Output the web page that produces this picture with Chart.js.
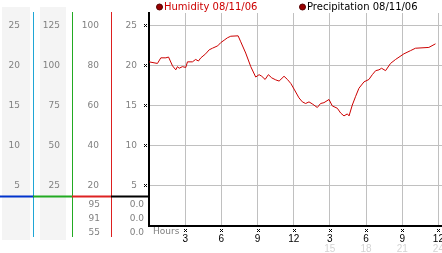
<!DOCTYPE html>
<html>
<head>
<meta charset="utf-8">
<script src="https://cdn.jsdelivr.net/npm/chart.js@4.4.0/dist/chart.umd.min.js"></script>
<style>
html, body { margin: 0; padding: 0; background: #fff; }
#wrap { position: relative; width: 442px; height: 253px; }
</style>
</head>
<body>
<div id="wrap"><canvas id="weatherChart"></canvas></div>
<script>
// Humidity trace (hours since start, value)
const hours = [0, 0.7, 0.98, 1.4, 1.62, 1.95, 2.22, 2.36, 2.5, 2.77, 3.05, 3.19, 3.6, 3.87, 4.1, 4.3,
  4.7, 4.99, 5.26, 5.7, 5.95, 6.23, 6.5, 6.78, 7.39, 7.61, 8.02, 8.44, 8.85, 9.13, 9.35, 9.63, 9.9,
  10.18, 10.51, 10.79, 11.2, 11.48, 11.76, 12.03, 12.44, 12.72, 12.99, 13.27, 13.54, 13.96, 14.23,
  14.51, 14.93, 15.2, 15.62, 15.9, 16.17, 16.45, 16.59, 16.86, 17.14, 17.41, 17.83, 18.24, 18.52,
  18.8, 19.07, 19.29, 19.62, 20.03, 20.45, 21.14, 21.69, 22.1, 23.21, 23.76];
const humidity = [20.5, 20.3, 21.0, 21.0, 21.1, 20.0, 19.5, 19.9, 19.7, 19.9, 19.8, 20.5, 20.5, 20.8, 20.6, 21.0,
  21.5, 22.0, 22.2, 22.5, 22.9, 23.2, 23.5, 23.7, 23.75, 23.0, 21.6, 19.9, 18.6, 18.9, 18.7, 18.3, 18.9,
  18.5, 18.25, 18.1, 18.7, 18.3, 17.8, 17.1, 16.0, 15.5, 15.3, 15.5, 15.25, 14.8, 15.3,
  15.4, 15.8, 15.0, 14.7, 14.1, 13.75, 14.0, 13.75, 15.1, 16.2, 17.2, 18.0, 18.3, 18.9,
  19.4, 19.5, 19.7, 19.4, 20.3, 20.8, 21.5, 21.9, 22.2, 22.3, 22.75];
const precipHours = [0, 24];
const precipitation = [0, 0];

// axis ticks
const xTickValues = [3, 6, 9, 12, 15, 18, 21, 24];
const xTickLabels = ['3', '6', '9', '12', '3', '6', '9', '12'];
const x24Values = [15, 18, 21, 24];
const x24Labels = ['15', '18', '21', '24'];
const mainTicks = [5, 10, 15, 20, 25];
const col1Ticks = [5, 10, 15, 20, 25];
const col2Ticks = [25, 50, 75, 100, 125];
const col3Ticks = [20, 40, 60, 80, 100];

// small table under the axes
const col3Table = ['95', '91', '55'];
const col4Table = ['0.0', '0.0', '0.0'];

const GREY = '#808080';
const tickFont = { family: 'DejaVu Sans', size: 9 };

function fixedTicks(values) {
    return s => { s.ticks = values.map(v => ({ value: v })); };
}

// fixed box size, no extra label padding
function boxSize(w, h) {
    return s => {
        if (w) s.width = w;
        if (h) s.height = h;
        s.paddingLeft = s.paddingRight = s.paddingTop = s.paddingBottom = 0;
    };
}

// grey columns, coloured dividers, bar and table on the left
const leftPanel = {
    id: 'leftPanel',
    beforeDraw(chart) {
        const ctx = chart.ctx;
        ctx.save();
        ctx.fillStyle = '#f4f4f4';
        ctx.fillRect(2, 7, 28, 233);
        ctx.fillRect(40, 7, 26, 233);
        ctx.restore();
    },
    afterDraw(chart) {
        const ctx = chart.ctx;
        const s = chart.scales;
        ctx.save();
        const lines = [[s.y1.right, '#1fa6d6'], [s.y2.right, '#22aa22'], [s.y3.right, '#dd1f1f']];
        ctx.lineWidth = 1;
        lines.forEach(([x, c]) => {
            ctx.strokeStyle = c;
            ctx.beginPath();
            ctx.moveTo(Math.round(x) + 0.5, 12);
            ctx.lineTo(Math.round(x) + 0.5, 237);
            ctx.stroke();
        });
        // separator bar
        const barY = 196.5;
        const segs = [[0, s.y1.right, '#0033cc'], [s.y1.right, s.y2.right, '#22aa22'],
            [s.y2.right, s.y3.right, '#dd2222'], [s.y3.right, s.y.right, '#000000']];
        ctx.lineWidth = 2;
        segs.forEach(([a, b, c]) => {
            ctx.strokeStyle = c;
            ctx.beginPath();
            ctx.moveTo(a, barY);
            ctx.lineTo(b + 1, barY);
            ctx.stroke();
        });
        // table
        ctx.fillStyle = GREY;
        ctx.font = '9px "DejaVu Sans"';
        ctx.textAlign = 'right';
        ctx.textBaseline = 'middle';
        col3Table.forEach((t, i) => ctx.fillText(t, 100, 204.5 + i * 14));
        col4Table.forEach((t, i) => ctx.fillText(t, 144, 204.5 + i * 14));
        // little tick markers
        ctx.fillStyle = '#000';
        const mark = (x, y) => {
            [[0, 0], [2, 0], [1, 1], [0, 2], [2, 2]].forEach(([dx, dy]) => ctx.fillRect(x + dx, y + dy, 1, 1));
        };
        mainTicks.forEach(v => mark(s.y.right - 5, Math.round(s.y.getPixelForValue(v)) - 2));
        xTickValues.forEach(v => mark(Math.round(s.x.getPixelForValue(v)) - 1, 229));
        // axis caption
        ctx.fillStyle = GREY;
        ctx.textAlign = 'left';
        ctx.fillText('Hours', 153, 232);
        // legend
        ctx.font = '10px "DejaVu Sans"';
        const legend = [[159.5, chart.data.datasets[0].label, '#cc0000'],
            [302.5, chart.data.datasets[1].label, '#000000']];
        legend.forEach(([x, text, c]) => {
            ctx.fillStyle = '#990000';
            ctx.strokeStyle = '#550000';
            ctx.lineWidth = 1;
            ctx.beginPath();
            ctx.arc(x, 7, 3, 0, Math.PI * 2);
            ctx.fill();
            ctx.stroke();
            ctx.fillStyle = c;
            ctx.fillText(text, x + 4.5, 7);
        });
        ctx.restore();
    }
};

new Chart(document.getElementById('weatherChart'), {
    type: 'line',
    data: {
        datasets: [{
            label: 'Humidity 08/11/06',
            data: hours.map((h, i) => ({ x: h, y: humidity[i] })),
            borderColor: '#cc0000',
            borderWidth: 1,
            pointRadius: 0,
            tension: 0,
            yAxisID: 'y'
        }, {
            label: 'Precipitation 08/11/06',
            data: precipHours.map((h, i) => ({ x: h, y: precipitation[i] })),
            borderColor: '#000000',
            borderWidth: 1,
            pointRadius: 0,
            yAxisID: 'y'
        }]
    },
    options: {
        responsive: true,
        maintainAspectRatio: false,
        animation: false,
        layout: { padding: { top: 13, left: 0, right: 0, bottom: 0 } },
        plugins: { legend: { display: false }, tooltip: { enabled: false } },
        scales: {
            x: {
                type: 'linear', position: 'bottom', min: 0, max: 24.3,
                afterBuildTicks: fixedTicks(xTickValues),
                afterFit: boxSize(0, 17),
                grid: { color: '#c0c0c0', drawTicks: false },
                border: { color: '#000', width: 2 },
                ticks: {
                    color: '#000', padding: 7, maxRotation: 0,
                    font: { family: 'Liberation Sans', size: 10 },
                    callback: (v, i) => xTickLabels[i]
                }
            },
            x2: {
                type: 'linear', position: 'bottom', min: 0, max: 24.3,
                afterBuildTicks: fixedTicks(x24Values),
                afterFit: boxSize(0, 10),
                grid: { display: false, drawTicks: false },
                border: { display: false },
                ticks: {
                    color: '#d4d4d4', padding: 0, maxRotation: 0,
                    font: { family: 'Liberation Sans', size: 10 },
                    callback: (v, i) => x24Labels[i]
                }
            },
            y: {
                type: 'linear', position: 'left', min: 0, max: 26.6, weight: 1,
                afterBuildTicks: fixedTicks(mainTicks),
                afterFit: boxSize(38, 0),
                grid: { color: '#c0c0c0', drawTicks: false },
                border: { color: '#000', width: 2 },
                ticks: { color: GREY, padding: 12, font: tickFont }
            },
            y3: {
                type: 'linear', position: 'left', min: 0, max: 106.4, weight: 2,
                afterBuildTicks: fixedTicks(col3Ticks),
                afterFit: boxSize(39, 0),
                grid: { display: false, drawTicks: false },
                border: { display: false },
                ticks: { color: GREY, padding: 12, font: tickFont }
            },
            y2: {
                type: 'linear', position: 'left', min: 0, max: 133, weight: 3,
                afterBuildTicks: fixedTicks(col2Ticks),
                afterFit: boxSize(39, 0),
                grid: { display: false, drawTicks: false },
                border: { display: false },
                ticks: { color: GREY, padding: 12, font: tickFont }
            },
            y1: {
                type: 'linear', position: 'left', min: 0, max: 26.6, weight: 4,
                afterBuildTicks: fixedTicks(col1Ticks),
                afterFit: boxSize(33, 0),
                grid: { display: false, drawTicks: false },
                border: { display: false },
                ticks: { color: GREY, padding: 13, font: tickFont }
            }
        }
    },
    plugins: [leftPanel]
});
</script>
</body>
</html>
